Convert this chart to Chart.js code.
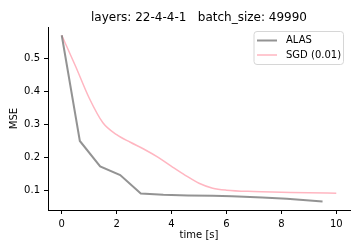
<!DOCTYPE html>
<html>
<head>
<meta charset="utf-8">
<script src="https://cdn.jsdelivr.net/npm/chart.js@4/dist/chart.umd.min.js"></script>
<style>
  html, body { margin: 0; padding: 0; background: #fff; }
  #wrap { width: 360px; height: 252px; position: relative; }
</style>
</head>
<body>
<div id="wrap"><canvas id="c" width="360" height="252"></canvas></div>
<script>
const titleText = 'layers: 22-4-4-1   batch_size: 49990';
const xTicks = [0, 2, 4, 6, 8, 10];
const yTicks = [0.1, 0.2, 0.3, 0.4, 0.5];

const alasLabel = 'ALAS';
const alasTime = [0, 0.66, 1.4, 2.13, 2.88, 3.7, 4.6, 5.5, 6.2, 7.3, 8.2, 9.5];
const alasMSE  = [0.57, 0.25, 0.173, 0.147, 0.091, 0.087, 0.085, 0.084, 0.083, 0.079, 0.075, 0.067];

const sgdLabel = 'SGD (0.01)';
const sgdTime = [0, 0.5, 1.0, 1.5, 2.0, 2.5, 3.0, 3.5, 4.0, 4.5, 5.0, 5.5, 6.0, 7.0, 8.0, 9.0, 10];
const sgdMSE  = [0.57, 0.477, 0.38, 0.305, 0.269, 0.246, 0.225, 0.201, 0.173, 0.146, 0.122, 0.107, 0.101, 0.097, 0.095, 0.093, 0.092];

const FONT = 'DejaVu Sans';
const toPts = (xs, ys) => xs.map((x, i) => ({x: x, y: ys[i]}));

const titlePlugin = {
  id: 'mplTitle',
  afterDraw(chart) {
    const ctx = chart.ctx;
    const area = chart.chartArea;
    ctx.save();
    ctx.fillStyle = '#000';
    ctx.font = '12px "' + FONT + '"';
    ctx.textAlign = 'center';
    ctx.textBaseline = 'alphabetic';
    ctx.fillText(titleText, (area.left + area.right) / 2, 21);
    ctx.restore();
  }
};

const legendPlugin = {
  id: 'mplLegend',
  afterDraw(chart) {
    const ctx = chart.ctx;
    const area = chart.chartArea;
    const x1 = area.right - 6.5, x0 = 254, y0 = 31.5, y1 = 64.5;
    ctx.save();
    const r = 3;
    ctx.beginPath();
    ctx.moveTo(x0 + r, y0);
    ctx.arcTo(x1, y0, x1, y1, r);
    ctx.arcTo(x1, y1, x0, y1, r);
    ctx.arcTo(x0, y1, x0, y0, r);
    ctx.arcTo(x0, y0, x1, y0, r);
    ctx.closePath();
    ctx.fillStyle = 'rgba(255,255,255,0.8)';
    ctx.fill();
    ctx.strokeStyle = '#d6d6d6';
    ctx.lineWidth = 1;
    ctx.stroke();
    const rows = [40.5, 55];
    chart.data.datasets.forEach((ds, i) => {
      const y = rows[i];
      ctx.beginPath();
      ctx.moveTo(257, y);
      ctx.lineTo(277, y);
      ctx.strokeStyle = ds.borderColor;
      ctx.lineWidth = ds.borderWidth;
      ctx.stroke();
      ctx.fillStyle = '#000';
      ctx.font = '10px "' + FONT + '"';
      ctx.textBaseline = 'middle';
      ctx.textAlign = 'left';
      ctx.fillText(ds.label, 286, y);
    });
    ctx.restore();
  }
};

new Chart(document.getElementById('c'), {
  type: 'line',
  data: {
    datasets: [
      {
        label: alasLabel,
        data: toPts(alasTime, alasMSE),
        borderColor: 'rgba(128,128,128,0.85)',
        borderWidth: 2,
        pointRadius: 0,
        tension: 0,
        fill: false
      },
      {
        label: sgdLabel,
        data: toPts(sgdTime, sgdMSE),
        borderColor: '#ffb6c1',
        borderWidth: 1.5,
        pointRadius: 0,
        cubicInterpolationMode: 'monotone',
        fill: false
      }
    ]
  },
  options: {
    responsive: false,
    animation: false,
    devicePixelRatio: 1,
    layout: { padding: { left: 4, right: 10, top: 27, bottom: 7 } },
    plugins: {
      legend: { display: false },
      tooltip: { enabled: false },
      title: { display: false }
    },
    scales: {
      x: {
        type: 'linear',
        min: -0.5,
        max: 10.5,
        afterBuildTicks(scale) { scale.ticks = xTicks.map(v => ({ value: v })); },
        afterFit(scale) { scale.height = 35; },
        ticks: {
          color: '#000',
          font: { family: FONT, size: 10 },
          padding: 4,
          maxRotation: 0,
          callback: v => String(v)
        },
        grid: { display: true, drawOnChartArea: false, drawTicks: true, tickLength: 4, tickColor: '#000', tickWidth: 1 },
        border: { display: true, color: '#000', width: 1 },
        title: {
          display: true,
          text: 'time [s]',
          color: '#000',
          font: { family: FONT, size: 10, lineHeight: 1.2 },
          padding: { top: 4, bottom: 4 }
        }
      },
      y: {
        type: 'linear',
        min: 0.041,
        max: 0.595,
        afterBuildTicks(scale) { scale.ticks = yTicks.map(v => ({ value: v })); },
        afterFit(scale) { scale.width = 44; },
        ticks: {
          color: '#000',
          font: { family: FONT, size: 10 },
          padding: 4,
          callback: v => Number(v).toFixed(1)
        },
        grid: { display: true, drawOnChartArea: false, drawTicks: true, tickLength: 4, tickColor: '#000', tickWidth: 1 },
        border: { display: true, color: '#000', width: 1 },
        title: {
          display: true,
          text: 'MSE',
          color: '#000',
          font: { family: FONT, size: 10, lineHeight: 1.2 },
          padding: { top: 4, bottom: 4 }
        }
      }
    }
  },
  plugins: [titlePlugin, legendPlugin]
});
</script>
</body>
</html>
